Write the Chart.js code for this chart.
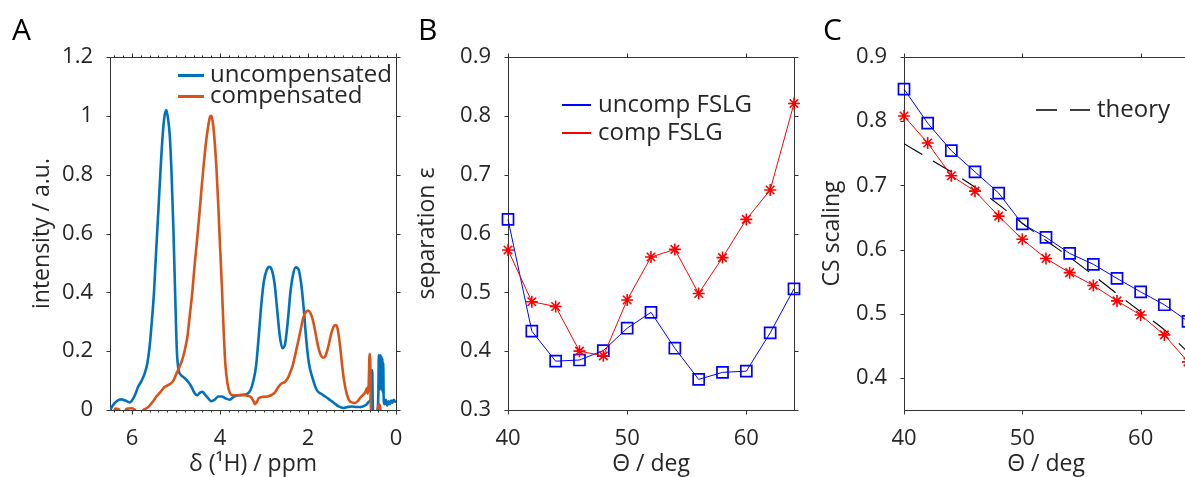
<!DOCTYPE html>
<html>
<head>
<meta charset="utf-8">
<script src="https://cdn.jsdelivr.net/npm/chart.js@4.4.1/dist/chart.umd.min.js"></script>
<style>
	html, body { margin: 0; padding: 0; background: #fff; width: 1185px; height: 477px; overflow: hidden; }
	.panel { position: absolute; top: 0; width: 420px; height: 477px; }
	.tag { position: absolute; top: 14px; font-family: 'Open Sans', sans-serif; font-size: 30px; line-height: 1; color: #000; }
</style>
</head>
<body>
<div class="panel" style="left:0"><canvas id="spectra" width="420" height="477"></canvas></div>
<div class="panel" style="left:400px"><canvas id="separation" width="420" height="477"></canvas></div>
<div class="panel" style="left:800px"><canvas id="scaling" width="420" height="477"></canvas></div>
<div class="tag" style="left:12px">A</div>
<div class="tag" style="left:418px">B</div>
<div class="tag" style="left:823px">C</div>
<script>
// 1H spectra, chemical shift in ppm
const shiftUncomp = [
	6.50, 6.45, 6.35, 6.24, 6.15, 6.05, 5.95, 5.86, 5.78, 5.71,
	5.65, 5.60, 5.55, 5.50, 5.45, 5.40, 5.35, 5.30, 5.26, 5.22,
	5.18, 5.14, 5.10, 5.06, 5.02, 4.98, 4.94, 4.88, 4.80, 4.72,
	4.65, 4.58, 4.52, 4.46, 4.40, 4.34, 4.28, 4.20, 4.12, 4.04,
	3.96, 3.88, 3.78, 3.68, 3.58, 3.48, 3.38, 3.30, 3.24, 3.18,
	3.12, 3.06, 3.00, 2.94, 2.88, 2.82, 2.76, 2.70, 2.64, 2.58,
	2.52, 2.46, 2.40, 2.34, 2.28, 2.22, 2.16, 2.10, 2.04, 1.98,
	1.90, 1.80, 1.70, 1.60, 1.50, 1.40, 1.30, 1.20, 1.10, 1.00,
	0.90, 0.80, 0.72, 0.66, 0.62, 0.58, 0.56, 0.55, 0.54, 0.53,
	0.51, 0.47, 0.43, 0.40, 0.39, 0.38, 0.37, 0.36, 0.35, 0.34,
	0.33, 0.32, 0.31, 0.30, 0.29, 0.28, 0.26, 0.23, 0.20, 0.17,
	0.14, 0.11, 0.08, 0.05, 0.02, 0.00,
];
const intUncomp = [
	-0.005, 0.012, 0.03, 0.036, 0.032, 0.026, 0.045, 0.079, 0.10, 0.125,
	0.16, 0.215, 0.30, 0.40, 0.544, 0.68, 0.82, 0.94, 1.00, 1.02,
	0.99, 0.93, 0.80, 0.62, 0.40, 0.20, 0.135, 0.118, 0.108, 0.095,
	0.079, 0.058, 0.05, 0.058, 0.062, 0.052, 0.042, 0.03, 0.035, 0.046,
	0.046, 0.04, 0.035, 0.046, 0.05, 0.052, 0.055, 0.07, 0.10, 0.15,
	0.25, 0.36, 0.44, 0.475, 0.487, 0.475, 0.43, 0.34, 0.25, 0.21,
	0.225, 0.30, 0.40, 0.46, 0.485, 0.48, 0.435, 0.35, 0.24, 0.16,
	0.11, 0.068, 0.055, 0.045, 0.034, 0.023, 0.012, 0.007, 0.01, 0.012,
	0.01, 0.01, 0.014, 0.02, 0.028, 0.035, 0.07, 0.136, 0.13, 0.03,
	-0.02, -0.02, -0.01, 0.06, 0.187, 0.07, 0.185, 0.08, 0.186, 0.07,
	0.18, 0.09, 0.175, 0.06, 0.16, 0.04, 0.02, 0.035, 0.015, 0.03,
	0.02, 0.032, 0.025, 0.035, 0.028, 0.03,
];
const shiftComp = [
	6.50, 6.42, 6.38, 6.30, 6.25, 6.18, 6.12, 6.02, 5.94, 5.88,
	5.80, 5.74, 5.67, 5.60, 5.52, 5.45, 5.36, 5.26, 5.14, 5.06,
	5.00, 4.92, 4.86, 4.80, 4.74, 4.69, 4.63, 4.58, 4.52, 4.46,
	4.41, 4.36, 4.31, 4.27, 4.23, 4.20, 4.16, 4.12, 4.08, 4.04,
	4.00, 3.96, 3.92, 3.88, 3.83, 3.78, 3.72, 3.63, 3.52, 3.44,
	3.36, 3.29, 3.24, 3.20, 3.16, 3.12, 3.05, 2.98, 2.90, 2.83,
	2.75, 2.67, 2.60, 2.52, 2.46, 2.41, 2.35, 2.30, 2.25, 2.20,
	2.15, 2.11, 2.05, 1.99, 1.94, 1.89, 1.84, 1.80, 1.76, 1.72,
	1.66, 1.61, 1.54, 1.48, 1.42, 1.37, 1.33, 1.28, 1.23, 1.18,
	1.12, 1.05, 0.98, 0.93, 0.87, 0.82, 0.76, 0.70, 0.66, 0.64,
	0.62, 0.60, 0.59, 0.57, 0.56, 0.50, 0.44, 0.41, 0.39, 0.36,
	0.34, 0.20, 0.00,
];
const intComp = [
	-0.02, -0.01, 0.005, 0.003, -0.015, -0.01, 0.004, 0.006, 0.002, -0.015,
	-0.01, 0.0, 0.006, 0.015, 0.03, 0.045, 0.06, 0.078, 0.088, 0.10,
	0.12, 0.147, 0.17, 0.204, 0.25, 0.317, 0.40, 0.487, 0.58, 0.68,
	0.77, 0.85, 0.92, 0.963, 0.995, 1.0, 0.975, 0.91, 0.82, 0.70,
	0.56, 0.43, 0.28, 0.16, 0.09, 0.06, 0.05, 0.05, 0.05, 0.05,
	0.048, 0.043, 0.03, 0.02, 0.028, 0.04, 0.044, 0.045, 0.047, 0.051,
	0.06, 0.079, 0.09, 0.096, 0.108, 0.125, 0.15, 0.181, 0.215, 0.249,
	0.285, 0.312, 0.333, 0.338, 0.328, 0.306, 0.27, 0.238, 0.21, 0.19,
	0.178, 0.182, 0.215, 0.255, 0.283, 0.289, 0.278, 0.23, 0.159, 0.10,
	0.055, 0.03, 0.025, 0.024, 0.03, 0.04, 0.05, 0.06, 0.075, 0.055,
	0.09, 0.19, 0.19, 0.0, -0.02, -0.02, -0.015, 0.005, 0.02, 0.01,
	-0.015, -0.02, -0.02,
];

// magic angle scan
const theta = [40, 42, 44, 46, 48, 50, 52, 54, 56, 58, 60, 62, 64];
const sepUncomp = [0.624, 0.434, 0.383, 0.385, 0.401, 0.439, 0.466, 0.405, 0.352, 0.364, 0.366, 0.431, 0.506];
const sepComp = [0.572, 0.484, 0.476, 0.400, 0.392, 0.487, 0.560, 0.573, 0.498, 0.559, 0.624, 0.674, 0.821];
const csUncomp = [0.850, 0.797, 0.754, 0.721, 0.688, 0.640, 0.619, 0.594, 0.577, 0.555, 0.534, 0.514, 0.488];
const csComp = [0.808, 0.766, 0.715, 0.691, 0.652, 0.616, 0.586, 0.564, 0.544, 0.520, 0.498, 0.467, 0.425];
const csTheory = [0.765, 0.743, 0.721, 0.697, 0.670, 0.641, 0.614, 0.588, 0.560, 0.531, 0.503, 0.475, 0.440];

// tick values
const shiftTicks = [0, 2, 4, 6];
const intTicks = [0, 0.2, 0.4, 0.6, 0.8, 1, 1.2];
const thetaTicks = [40, 50, 60];
const sepTicks = [0.3, 0.4, 0.5, 0.6, 0.7, 0.8, 0.9];
const csTicks = [0.4, 0.5, 0.6, 0.7, 0.8, 0.9];

const textColor = '#262626';
const axisColor = '#333333';
Chart.defaults.font.family = "'Open Sans', 'Noto Sans', sans-serif";
Chart.defaults.color = textColor;

// box around the plot area, ticks pointing out on all four sides
const frameTicks = {
	id: 'frameTicks',
	beforeDatasetsDraw( chart, args, opts ) {
		const { ctx, chartArea: a, scales } = chart;
		const l = Math.round( a.left ) + 0.5,
			r = Math.round( a.right ) + 0.5,
			t = Math.round( a.top ) + 0.5,
			b = Math.round( a.bottom ) + 0.5;
		ctx.save();
		ctx.strokeStyle = axisColor;
		ctx.lineWidth = 1;
		ctx.beginPath();
		ctx.rect( l, t, r - l, b - t );
		scales.x.ticks.forEach( ( tk ) => {
			const px = Math.round( scales.x.getPixelForValue( tk.value ) ) + 0.5;
			ctx.moveTo( px, b );
			ctx.lineTo( px, b + 4 );
			ctx.moveTo( px, t );
			ctx.lineTo( px, t - 4 );
		} );
		scales.y.ticks.forEach( ( tk ) => {
			const py = Math.round( scales.y.getPixelForValue( tk.value ) ) + 0.5;
			ctx.moveTo( l, py );
			ctx.lineTo( l - 4, py );
			ctx.moveTo( r, py );
			ctx.lineTo( r + 4, py );
		} );
		if ( opts.minorStep ) {
			for ( let k = 0; k * opts.minorStep <= scales.x.max + 1e-9; k++ ) {
				const px = Math.round( scales.x.getPixelForValue( k * opts.minorStep ) ) + 0.5;
				ctx.moveTo( px, b );
				ctx.lineTo( px, b + 2 );
				ctx.moveTo( px, t );
				ctx.lineTo( px, t - 2 );
			}
		}
		ctx.stroke();
		ctx.restore();
	},
};

// legend drawn inside the plot area
const keyBox = {
	id: 'keyBox',
	afterDraw( chart, args, opts ) {
		if ( ! opts.items ) {
			return;
		}
		const ctx = chart.ctx;
		opts.items.forEach( ( idx, i ) => {
			const ds = chart.data.datasets[ idx ];
			const y = opts.y + i * ( opts.dy || 0 );
			ctx.save();
			ctx.strokeStyle = ds.borderColor;
			ctx.lineWidth = opts.lineWidth;
			ctx.setLineDash( opts.dash || [] );
			ctx.beginPath();
			ctx.moveTo( opts.x, y );
			ctx.lineTo( opts.x + opts.len, y );
			ctx.stroke();
			ctx.setLineDash( [] );
			ctx.fillStyle = textColor;
			ctx.font = "24px 'Open Sans', sans-serif";
			ctx.textBaseline = 'middle';
			ctx.fillText( ds.label, opts.x + opts.len + opts.gap, y + ( opts.textShift || 0 ) );
			ctx.restore();
		} );
	},
};

Chart.register( frameTicks, keyBox );

const axis = ( o ) => ( {
	type: 'linear',
	position: o.pos,
	min: o.min,
	max: o.max,
	reverse: !! o.reverse,
	grid: { display: false, drawTicks: false },
	border: { display: false },
	ticks: {
		autoSkip: false,
		maxRotation: 0,
		padding: o.pos === 'left' ? 17 : 16,
		font: { size: 22 },
		color: textColor,
		callback: ( v ) => String( Math.round( v * 10 ) / 10 ),
	},
	title: {
		display: true,
		text: o.title,
		color: textColor,
		padding: 0,
		font: { size: 23, lineHeight: o.pos === 'left' ? 1.2 : 1.05 },
	},
	afterBuildTicks: ( s ) => {
		s.ticks = o.ticks.map( ( v ) => ( { value: v } ) );
	},
	afterFit: ( s ) => {
		if ( o.pos === 'left' ) {
			s.width = o.size;
		} else {
			s.height = o.size;
		}
	},
} );

const baseOptions = ( pad, x, y, frame, key ) => ( {
	responsive: false,
	animation: false,
	events: [],
	layout: { padding: pad },
	scales: { x, y },
	plugins: {
		legend: { display: false },
		tooltip: { enabled: false },
		frameTicks: frame,
		keyBox: key,
	},
} );

const pairs = ( xs, ys ) => xs.map( ( v, i ) => ( { x: v, y: ys[ i ] } ) );

const spectrumLine = ( label, color, xs, ys, order ) => ( {
	label,
	data: pairs( xs, ys ),
	borderColor: color,
	borderWidth: 2.6,
	pointRadius: 0,
	cubicInterpolationMode: 'monotone',
	order,
} );

const markerLine = ( label, color, ys, style, order ) => ( {
	label,
	data: pairs( theta, ys ),
	borderColor: color,
	borderWidth: 1,
	pointStyle: style,
	pointRadius: style === 'rect' ? 7.8 : 6,
	pointBorderWidth: style === 'rect' ? 1.7 : 1.6,
	pointBorderColor: color,
	pointBackgroundColor: 'rgba(0,0,0,0)',
	tension: 0,
	clip: false,
	order,
} );

new Chart( document.getElementById( 'spectra' ), {
	type: 'line',
	data: {
		datasets: [
			spectrumLine( 'uncompensated', '#0072BD', shiftUncomp, intUncomp, 2 ),
			spectrumLine( 'compensated', '#D95319', shiftComp, intComp, 1 ),
		],
	},
	options: baseOptions(
		{ left: 29, right: 24, top: 57, bottom: 0 },
		axis( { pos: 'bottom', min: 0, max: 6.5, reverse: true, ticks: shiftTicks, title: 'δ (¹H) / ppm', size: 67 } ),
		axis( { pos: 'left', min: 0, max: 1.2, ticks: intTicks, title: 'intensity / a.u.', size: 81 } ),
		{ minorStep: 0.2 },
		{ items: [ 0, 1 ], x: 178, y: 75.5, dy: 21, len: 26, gap: 6, lineWidth: 3 }
	),
} );

new Chart( document.getElementById( 'separation' ), {
	type: 'line',
	data: {
		datasets: [
			markerLine( 'uncomp FSLG', '#0000FF', sepUncomp, 'rect', 2 ),
			markerLine( 'comp FSLG', '#FF0000', sepComp, 'star', 1 ),
		],
	},
	options: baseOptions(
		{ left: 14, right: 26, top: 57, bottom: 0 },
		axis( { pos: 'bottom', min: 40, max: 64, ticks: thetaTicks, title: 'Θ / deg', size: 67 } ),
		axis( { pos: 'left', min: 0.3, max: 0.9, ticks: sepTicks, title: 'separation ε', size: 94 } ),
		{},
		{ items: [ 0, 1 ], x: 162, y: 105, dy: 28, len: 29, gap: 7, lineWidth: 2 }
	),
} );

new Chart( document.getElementById( 'scaling' ), {
	type: 'line',
	data: {
		datasets: [
			markerLine( 'uncomp FSLG', '#0000FF', csUncomp, 'rect', 2 ),
			markerLine( 'comp FSLG', '#FF0000', csComp, 'star', 1 ),
			{
				label: 'theory',
				data: pairs( theta, csTheory ),
				borderColor: '#000000',
				borderWidth: 1.1,
				borderDash: [ 21, 13 ],
				pointRadius: 0,
				tension: 0.3,
				order: 3,
			},
		],
	},
	options: baseOptions(
		{ left: 19, right: 32, top: 57, bottom: 0 },
		axis( { pos: 'bottom', min: 40, max: 64, ticks: thetaTicks, title: 'Θ / deg', size: 67 } ),
		axis( { pos: 'left', min: 0.35, max: 0.9, ticks: csTicks, title: 'CS scaling', size: 85 } ),
		{},
		{ items: [ 2 ], x: 236, y: 110, len: 54, gap: 7, lineWidth: 1.6, dash: [ 21, 13 ] }
	),
} );
</script>
</body>
</html>
